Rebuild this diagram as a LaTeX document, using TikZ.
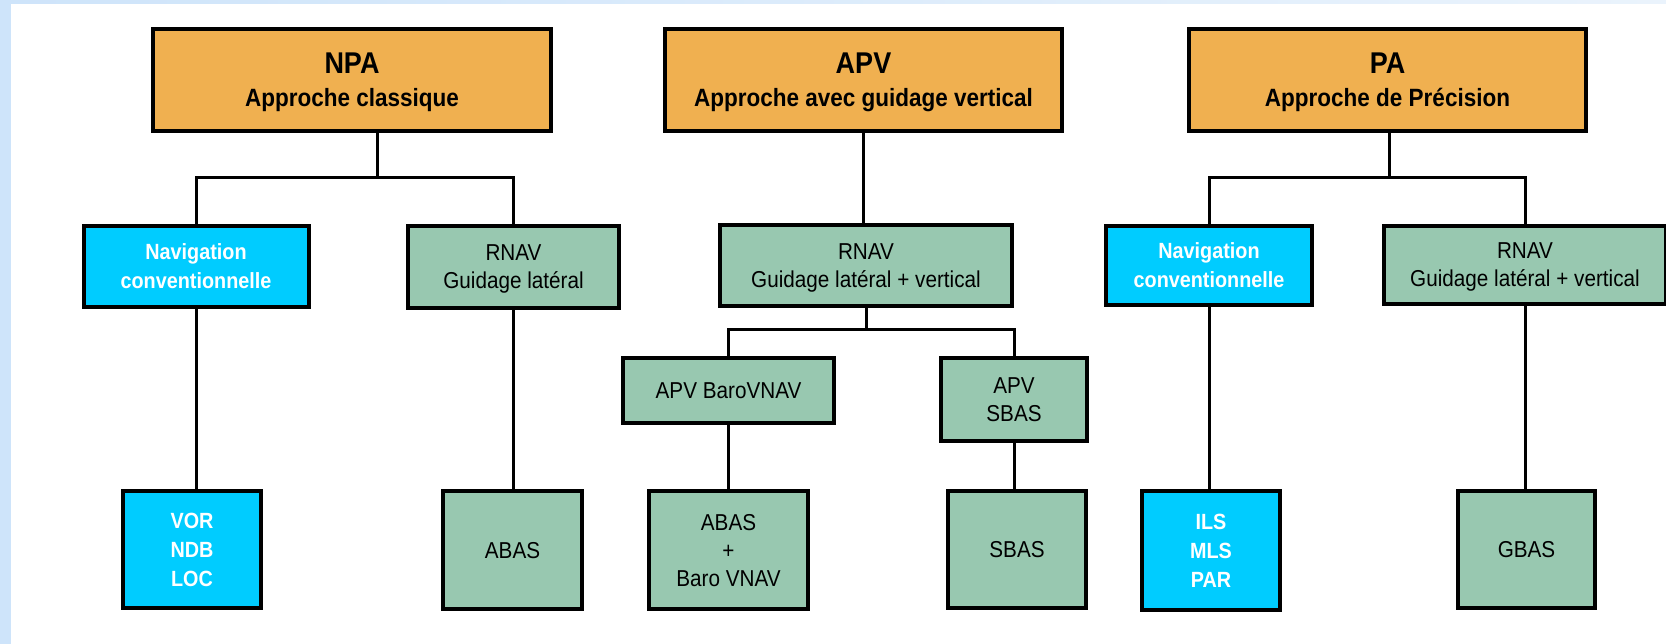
\documentclass[tikz,border=0pt]{standalone}
\usepackage{fontspec}
\newfontfamily\nar{Liberation Sans}[FakeStretch=0.9]
\definecolor{orangefill}{RGB}{240,176,80}
\definecolor{greenfill}{RGB}{152,200,176}
\definecolor{bluefill}{RGB}{0,204,255}
\definecolor{bgblue}{RGB}{206,228,250}
\definecolor{bgblue2}{RGB}{234,243,252}
\begin{document}
\begin{tikzpicture}[x=1pt,y=-1pt,
  box/.style={draw=black, line width=4pt, inner sep=0pt, align=center, text depth=0pt},
  orangebox/.style={box, fill=orangefill, font=\nar\bfseries\fontsize{25}{33}\selectfont},
  bluebox/.style={box, fill=bluefill, text=white, font=\nar\bfseries\fontsize{22}{29}\selectfont},
  greenbox/.style={box, fill=greenfill, text=black, font=\nar\fontsize{23}{28}\selectfont},
  conn/.style={draw=black, line width=3pt, line join=miter}]
\useasboundingbox (0,0) rectangle (1666,644);
\clip (0,0) rectangle (1666,644);
\fill[white] (0,0) rectangle (1666,644);
\shade[left color=bgblue, right color=bgblue2] (0,0) rectangle (1666,4);
\fill[bgblue] (0,0) rectangle (11,644);

% top level
\node[orangebox, minimum width=398pt, minimum height=102pt] (npa) at (352,80)
  {{\fontsize{30}{33}\selectfont NPA}\\Approche classique};
\node[orangebox, minimum width=397pt, minimum height=102pt] (apv) at (863.5,80)
  {{\fontsize{30}{33}\selectfont APV}\\Approche avec guidage vertical};
\node[orangebox, minimum width=397pt, minimum height=102pt] (pa) at (1387.5,80)
  {{\fontsize{30}{33}\selectfont PA}\\Approche de Précision};

% second level
\node[bluebox, minimum width=225pt, minimum height=81pt] (nav1) at (196,266.5)
  {Navigation\\conventionnelle};
\node[greenbox, minimum width=211pt, minimum height=82pt] (rnav1) at (513.5,267)
  {RNAV\\Guidage latéral};
\node[greenbox, minimum width=292pt, minimum height=81pt] (rnav2) at (866,265.5)
  {RNAV\\Guidage latéral + vertical};
\node[bluebox, minimum width=206pt, minimum height=79pt] (nav2) at (1209,265.5)
  {Navigation\\conventionnelle};
\node[greenbox, minimum width=282pt, minimum height=78pt] (rnav3) at (1525,265)
  {RNAV\\Guidage latéral + vertical};

% third level (APV)
\node[greenbox, minimum width=211pt, minimum height=65pt] (baro) at (728.5,390.5)
  {APV BaroVNAV};
\node[greenbox, minimum width=146pt, minimum height=83pt] (apvsbas) at (1014,399.5)
  {APV\\SBAS};

% bottom level
\node[bluebox, minimum width=138pt, minimum height=117pt] (vor) at (192,549.5)
  {VOR\\NDB\\LOC};
\node[greenbox, minimum width=139pt, minimum height=118pt] (abas) at (512.5,550)
  {ABAS};
\node[greenbox, minimum width=159pt, minimum height=118pt] (abasbaro) at (728.5,550)
  {ABAS\\+\\Baro VNAV};
\node[greenbox, minimum width=138pt, minimum height=117pt] (sbas) at (1017,549.5)
  {SBAS};
\node[bluebox, minimum width=138pt, minimum height=119pt] (ils) at (1211,550.5)
  {ILS\\MLS\\PAR};
\node[greenbox, minimum width=137pt, minimum height=117pt] (gbas) at (1526.5,549.5)
  {GBAS};

% junctions
\coordinate (npaJ) at (377,178);
\coordinate (apvJ) at (863,330);
\coordinate (paJ) at (1389,178);

% NPA connectors
\draw[conn] (npa.south -| npaJ) -- (npaJ);
\draw[conn] (nav1.north) |- (rnav1.north |- npaJ) -- (rnav1.north);
\draw[conn] (nav1.south) -- (nav1.south |- vor.north);
\draw[conn] (rnav1.south) -- (rnav1.south |- abas.north);

% APV connectors
\draw[conn] (apv.south) -- (apv.south |- rnav2.north);
\draw[conn] (rnav2.south) -- (rnav2.south |- apvJ);
\draw[conn] (baro.north) |- (apvsbas.north |- apvJ) -- (apvsbas.north);
\draw[conn] (baro.south) -- (baro.south |- abasbaro.north);
\draw[conn] (apvsbas.south) -- (apvsbas.south |- sbas.north);

% PA connectors
\draw[conn] (pa.south -| paJ) -- (paJ);
\draw[conn] (nav2.north) |- (rnav3.north |- paJ) -- (rnav3.north);
\draw[conn] (nav2.south) -- (nav2.south |- ils.north);
\draw[conn] (rnav3.south) -- (rnav3.south |- gbas.north);
\end{tikzpicture}
\end{document}
